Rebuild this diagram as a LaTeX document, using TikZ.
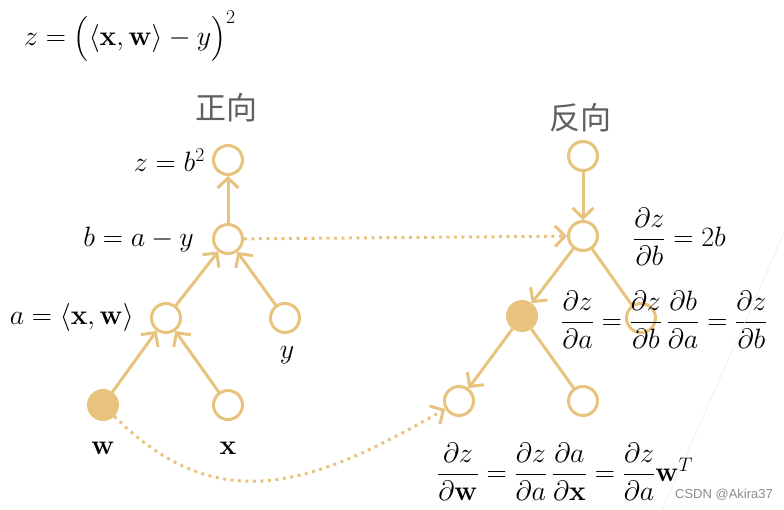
\documentclass[tikz,border=0pt]{standalone}
\usepackage{fix-cm}
\usepackage[no-math]{fontspec}
\usepackage{amsmath}
\newfontfamily\cjk{Noto Sans CJK SC}
\newfontfamily\wmfont{Liberation Sans}
\usetikzlibrary{arrows.meta}
\definecolor{gdgold}{RGB}{232,195,125}
\definecolor{gdgray}{RGB}{95,95,95}

\tikzset{
  vtx/.style={circle, draw=gdgold, line width=3pt, minimum size=29pt, inner sep=0pt, fill=white},
  vtxon/.style={vtx, fill=gdgold},
  edge/.style={gdgold, line width=3pt},
  arr/.style={edge, -{Straight Barb[length=10pt,width=21pt]}},
  dotarr/.style={arr, dash pattern=on 3pt off 4.5pt},
  eq/.style={font=\fontsize{28}{33}\selectfont, inner sep=0pt},
  dirlabel/.style={font=\cjk\fontsize{31}{36}\selectfont, text=gdgray}
}

\begin{document}
\begin{tikzpicture}[x=1pt, y=1pt]
  \useasboundingbox (0,0) rectangle (784,510);

  % Loss function
  \node[eq, anchor=west] (loss) at (24,474) {$z=\big(\langle\mathbf{x},\mathbf{w}\rangle-y\big)^2$};

  % Headings
  \node[dirlabel] (fwd) at (226,402) {正向};
  \node[dirlabel] (bwd) at (580,392) {反向};

  % Forward graph
  \node[vtx] (zf) at (228,350) {};
  \node[vtx] (bf) at (228,271) {};
  \node[vtx] (af) at (166,192) {};
  \node[vtx] (yf) at (285,192) {};
  \node[vtxon] (wf) at (103,105) {};
  \node[vtx] (xf) at (228,105) {};

  \draw[arr] (bf) -- (zf);
  \draw[arr] (af) -- (bf);
  \draw[arr] (yf) -- (bf);
  \draw[arr] (wf) -- (af);
  \draw[arr] (xf) -- (af);

  \node[eq, anchor=east] (zlab) at (205,350) {$z=b^2$};
  \node[eq, anchor=east] (blab) at (194,270) {$b=a-y$};
  \node[eq, anchor=east] (alab) at (134,192) {$a=\langle\mathbf{x},\mathbf{w}\rangle$};
  \node[eq] (ylab) at (287,155) {$y$};
  \node[eq] (wlab) at (103,62) {$\mathbf{w}$};
  \node[eq] (xlab) at (228,62) {$\mathbf{x}$};

  % Backward graph
  \node[vtx] (zr) at (583,354) {};
  \node[vtx] (br) at (583,274) {};
  \node[vtxon] (ar) at (522,194) {};
  \node[vtx] (yr) at (641,192) {};
  \node[vtx] (wr) at (459,109) {};
  \node[vtx] (xr) at (583,109) {};

  \draw[arr] (zr) -- (br);
  \draw[arr] (br) -- (ar);
  \draw[edge] (br) -- (yr);
  \draw[arr] (ar) -- (wr);
  \draw[edge] (ar) -- (xr);

  % Links between the two graphs
  \draw[dotarr] (bf) -- (br);
  \draw[dotarr] (wf) to[out=-45, in=-150, looseness=1.15] (wr);

  \node[eq, anchor=west] (dzdb) at (633,273) {$\dfrac{\partial z}{\partial b}=2b$};
  \node[eq, anchor=west] (dzda) at (561,190)
       {$\dfrac{\partial z}{\partial a}=\dfrac{\partial z}{\partial b}\,\dfrac{\partial b}{\partial a}=\dfrac{\partial z}{\partial b}$};
  \node[eq, anchor=west] (dzdw) at (437,38)
       {$\dfrac{\partial z}{\partial \mathbf{w}}=\dfrac{\partial z}{\partial a}\,\dfrac{\partial a}{\partial \mathbf{x}}=\dfrac{\partial z}{\partial a}\mathbf{w}^T$};

  % Watermark
  \draw[black!8, line width=0.6pt] (792,295) -- (662,0);
  \node[font=\wmfont\fontsize{13}{15}\selectfont, text=black!45] (mark) at (724,15) {CSDN @Akira37};
\end{tikzpicture}
\end{document}
